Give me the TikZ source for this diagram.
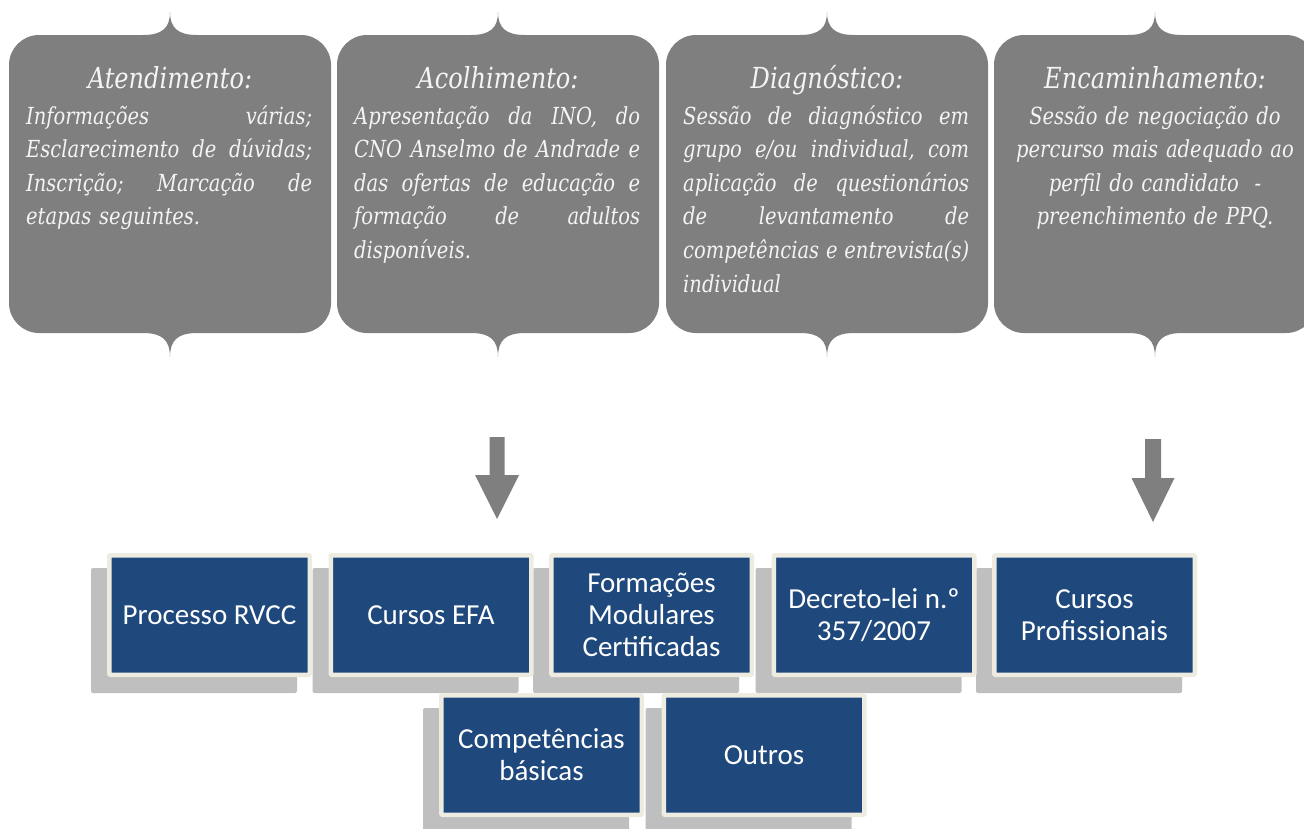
\documentclass[tikz,border=0pt]{standalone}
\usepackage{fontspec}
\newfontfamily\serifit[FakeStretch=0.83]{DejaVu Serif}
\newfontfamily\boxfont{Carlito}
\definecolor{callgray}{HTML}{7F7F7F}
\definecolor{calltext}{HTML}{F4F4F4}
\definecolor{navy}{HTML}{1F497D}
\definecolor{cream}{HTML}{EEECE1}
\definecolor{shadowgray}{HTML}{BFBFBF}
\definecolor{arrowgray}{HTML}{7F7F7F}
\newcommand\jl[1]{\leavevmode\hbox to 286pt{\frenchspacing\spaceskip=0.28em plus 1fil\relax #1}}
\newcommand\mycallout[1]{%
\begin{scope}[xshift=#1pt]
\fill[callgray] (-27,35) -- (-131,35) arc[start angle=270,end angle=180,radius=30]
 -- (-161,303) arc[start angle=180,end angle=90,radius=30]
 -- (-27,333) .. controls (-8,333) and (0,340) .. (0,357)
 .. controls (0,340) and (8,333) .. (27,333)
 -- (131,333) arc[start angle=90,end angle=0,radius=30]
 -- (161,65) arc[start angle=0,end angle=-90,radius=30]
 -- (27,35) .. controls (8,35) and (0,28) .. (0,12)
 .. controls (0,28) and (-8,35) .. (-27,35) -- cycle;
\end{scope}}
\tikzset{
 calltitle/.style={text=calltext, font=\serifit\itshape\fontsize{29}{34}\selectfont, anchor=base, inner sep=0pt},
 callbody/.style={text=calltext, font=\serifit\itshape\fontsize{23.5}{33.6}\selectfont, anchor=base west, text width=286pt, inner sep=0pt, align=left},
 callbodyc/.style={callbody, anchor=base, align=center},
 bluebox/.style={draw=cream, line width=4.5pt, fill=navy, minimum width=200.5pt, minimum height=119.5pt, text=white, font=\boxfont\fontsize{29}{32}\selectfont, align=center, inner sep=0pt, rounded corners=1pt},
 shadowbox/.style={fill=shadowgray, minimum width=206pt, minimum height=125pt, inner sep=0pt, rounded corners=2pt},
 blockarrow/.style={fill=arrowgray}
}
\begin{document}
\begin{tikzpicture}[x=1pt,y=-1pt]
\useasboundingbox (0,0) rectangle (1304,828);
\fill[white] (0,0) rectangle (1304,828);
% callouts
\mycallout{170}
\mycallout{498}
\mycallout{827}
\mycallout{1155}
\node[calltitle] (t1) at (170,88) {Atendimento:};
\node[callbody] (b1) at (26,124) {\jl{Informações várias;}\\\jl{Esclarecimento de dúvidas;}\\\jl{Inscrição; Marcação de}\\etapas seguintes.};
\node[calltitle] (t2) at (498,88) {Acolhimento:};
\node[callbody] (b2) at (354,124) {\jl{Apresentação da INO, do}\\\jl{CNO Anselmo de Andrade e}\\\jl{das ofertas de educação e}\\\jl{formação de adultos}\\disponíveis.};
\node[calltitle] (t3) at (827,88) {Diagnóstico:};
\node[callbody] (b3) at (683,124) {\jl{Sessão de diagnóstico em}\\\jl{grupo e/ou individual, com}\\\jl{aplicação de questionários}\\\jl{de levantamento de}\\\jl{competências e entrevista(s)}\\individual};
\node[calltitle] (t4) at (1155,88) {Encaminhamento:};
\node[callbodyc] (b4) at (1155,124) {Sessão de negociação do\\percurso mais adequado ao\\perfil do candidato\ \ -\\preenchimento de PPQ.};
% arrows
\fill[blockarrow] (489.5,437) -- (504.5,437) -- (504.5,475) -- (519,475) -- (497,519) -- (475,475) -- (489.5,475) -- cycle;
\fill[blockarrow] (1145,439) -- (1161,439) -- (1161,478) -- (1174.5,478) -- (1153,522) -- (1131.5,478) -- (1145,478) -- cycle;
% shadows
\node[shadowbox] (s1) at (194,630.5) {};
\node[shadowbox] (s2) at (415.5,630.5) {};
\node[shadowbox] (s3) at (636,630.5) {};
\node[shadowbox] (s4) at (858.5,630.5) {};
\node[shadowbox] (s5) at (1079,630.5) {};
\node[shadowbox] (s6) at (526,770.5) {};
\node[shadowbox] (s7) at (748.5,770.5) {};
% boxes
\node[bluebox] (p1) at (209.5,615) {Processo RVCC};
\node[bluebox] (p2) at (431,615) {Cursos EFA};
\node[bluebox] (p3) at (651.5,615) {Formações\\Modulares\\Certificadas};
\node[bluebox] (p4) at (874,615) {Decreto-lei n.º\\357/2007};
\node[bluebox] (p5) at (1094.5,615) {Cursos\\Profissionais};
\node[bluebox] (p6) at (541.5,755) {Competências\\básicas};
\node[bluebox] (p7) at (764,755) {Outros};
\end{tikzpicture}
\end{document}
